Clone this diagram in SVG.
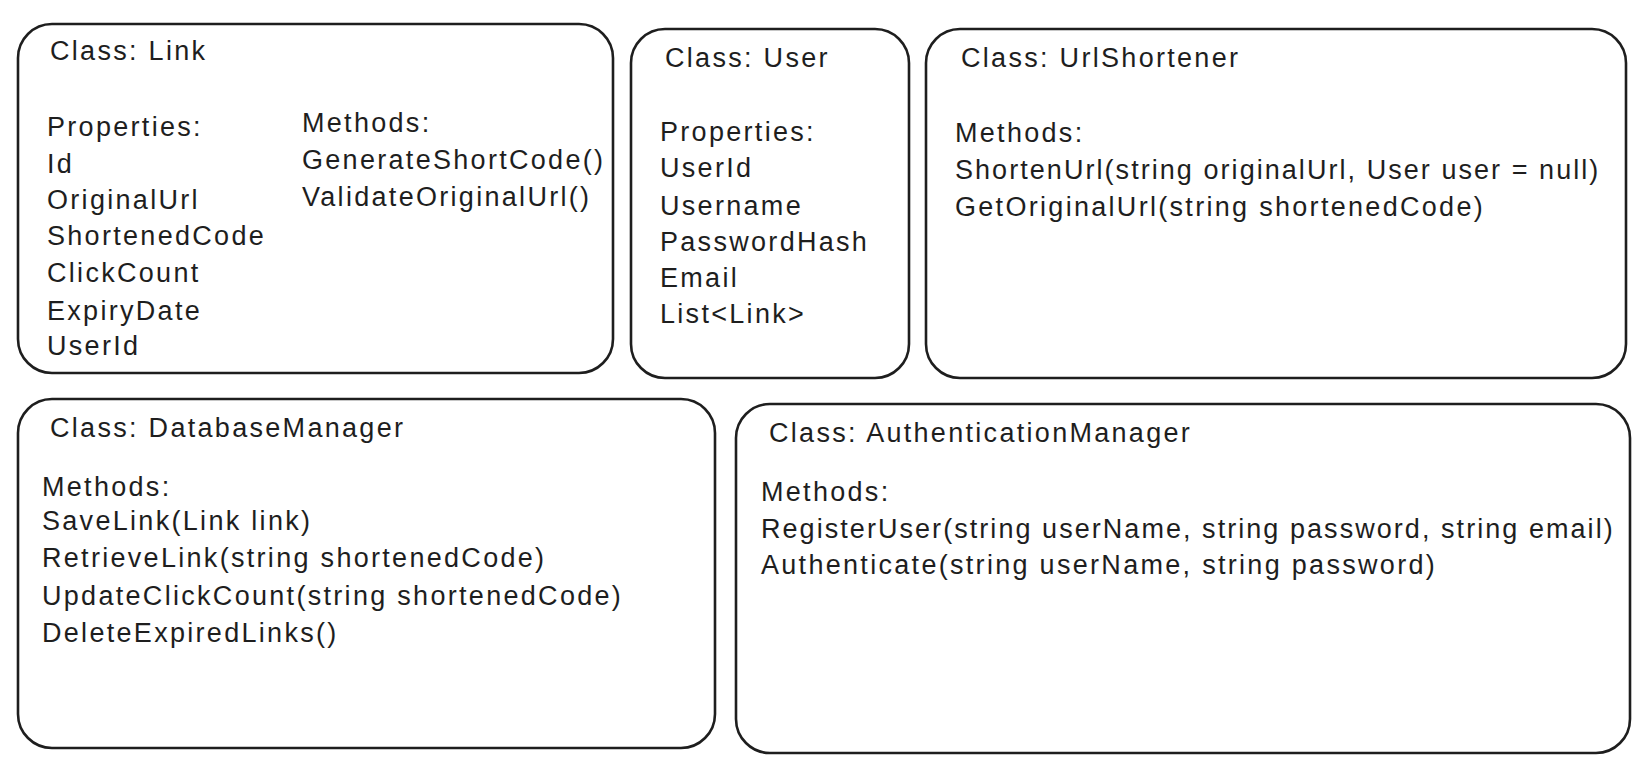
<svg xmlns="http://www.w3.org/2000/svg" width="1648" height="766" viewBox="0 0 1648 766">
<style>
.box{fill:#ffffff;stroke:#1e1e1e;stroke-width:2.6}
text{font-family:"Liberation Sans",Arial,sans-serif;font-size:27px;letter-spacing:2.3px;fill:#1e1e1e}
.tight{letter-spacing:2.05px}
</style>
<rect width="1648" height="766" fill="#ffffff"/>
<g id="link">
<rect class="box" x="18" y="24" width="595" height="349" rx="34"/>
<text x="50" y="60">Class: Link</text>
<text x="47" y="136">Properties:</text>
<text x="47" y="173">Id</text>
<text x="47" y="209">OriginalUrl</text>
<text x="47" y="245">ShortenedCode</text>
<text x="47" y="282">ClickCount</text>
<text x="47" y="320">ExpiryDate</text>
<text x="47" y="355">UserId</text>
<text x="302" y="132">Methods:</text>
<text x="302" y="169">GenerateShortCode()</text>
<text x="302" y="206">ValidateOriginalUrl()</text>
</g>
<g id="user">
<rect class="box" x="631" y="29" width="278" height="349" rx="34"/>
<text x="665" y="67">Class: User</text>
<text x="660" y="141">Properties:</text>
<text x="660" y="177">UserId</text>
<text x="660" y="215">Username</text>
<text x="660" y="251">PasswordHash</text>
<text x="660" y="287">Email</text>
<text x="660" y="323">List&lt;Link&gt;</text>
</g>
<g id="urlshortener">
<rect class="box" x="926" y="29" width="700" height="349" rx="34"/>
<text x="961" y="67">Class: UrlShortener</text>
<text x="955" y="142">Methods:</text>
<text x="955" y="179" class="tight">ShortenUrl(string originalUrl, User user = null)</text>
<text x="955" y="216">GetOriginalUrl(string shortenedCode)</text>
</g>
<g id="databasemanager">
<rect class="box" x="18" y="399" width="697" height="349" rx="34"/>
<text x="50" y="437">Class: DatabaseManager</text>
<text x="42" y="496">Methods:</text>
<text x="42" y="530">SaveLink(Link link)</text>
<text x="42" y="567">RetrieveLink(string shortenedCode)</text>
<text x="42" y="605">UpdateClickCount(string shortenedCode)</text>
<text x="42" y="642">DeleteExpiredLinks()</text>
</g>
<g id="authenticationmanager">
<rect class="box" x="736" y="404" width="894" height="349" rx="34"/>
<text x="769" y="442">Class: AuthenticationManager</text>
<text x="761" y="501">Methods:</text>
<text x="761" y="538" class="tight">RegisterUser(string userName, string password, string email)</text>
<text x="761" y="574">Authenticate(string userName, string password)</text>
</g>
<g id="connectors"></g>
</svg>
